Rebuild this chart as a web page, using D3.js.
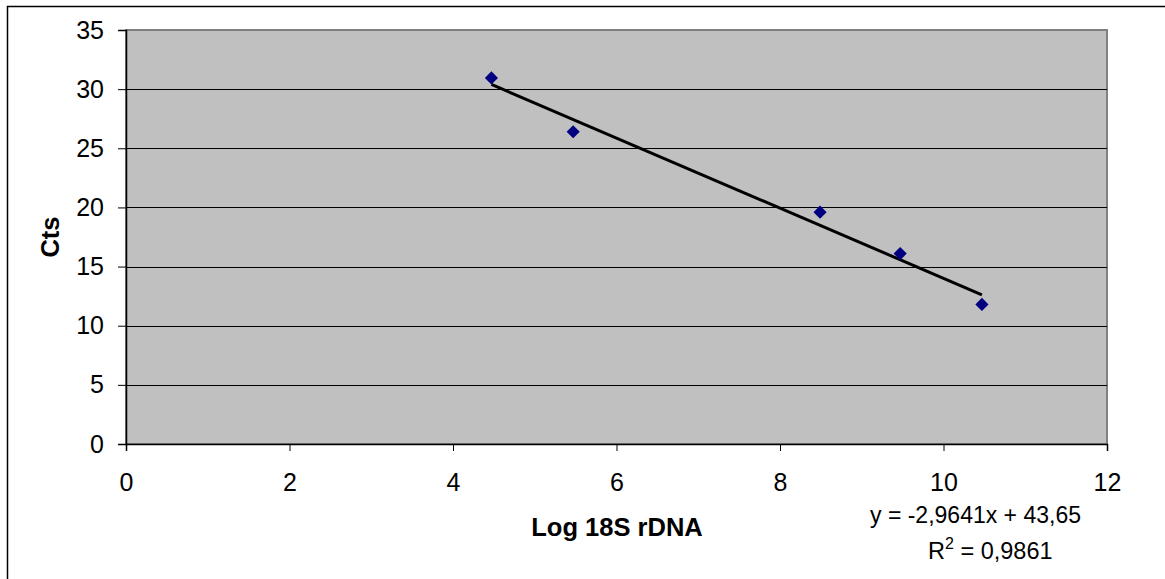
<!DOCTYPE html>
<html lang="en">

<head>
    <meta charset="UTF-8">
    <script src="https://d3js.org/d3.v7.min.js"></script>
    <title>Cts vs Log 18S rDNA</title>
    <style>
        body { margin: 0; background: #fff; overflow: hidden; }
        text { font-family: "Liberation Sans", Arial, sans-serif; fill: #000; }
    </style>
</head>

<body>
    <div id="chart"></div>
    <script>
        // Data
        const logDNA = [4.47, 5.47, 8.49, 9.47, 10.47];
        const cts = [30.95, 26.4, 19.6, 16.1, 11.8];
        const xTicks = [0, 2, 4, 6, 8, 10, 12];
        const yTicks = [0, 5, 10, 15, 20, 25, 30, 35];
        const trendSlope = -2.9641;
        const trendIntercept = 43.65;
        const rSquared = 0.9861;

        // Dimensions
        const width = 1165;
        const height = 579;
        const margin = { top: 30, right: 58, bottom: 135, left: 126 };
        const innerWidth = width - margin.left - margin.right;
        const innerHeight = height - margin.top - margin.bottom;

        const svg = d3.select("#chart")
            .append("svg")
            .attr("width", width)
            .attr("height", height)
            .style("display", "block");

        // Chart area border: only top and left edges are visible
        svg.append("path")
            .attr("d", `M7.5,${height} V6.5 H${width}`)
            .attr("fill", "none")
            .attr("stroke", "#000")
            .attr("stroke-width", 1.5);

        const g = svg.append("g")
            .attr("transform", `translate(${margin.left},${margin.top})`);

        // Scales
        const x = d3.scaleLinear().domain([0, 12]).range([0, innerWidth]);
        const y = d3.scaleLinear().domain([0, 35]).range([innerHeight, 0]);

        // Plot area
        g.append("rect")
            .attr("width", innerWidth)
            .attr("height", innerHeight)
            .attr("fill", "#c0c0c0")
            .attr("stroke", "#808080")
            .attr("stroke-width", 2);

        // Gridlines
        g.append("g")
            .selectAll("line")
            .data(yTicks.filter(d => d > 0 && d < 35))
            .join("line")
            .attr("x1", 0)
            .attr("x2", innerWidth)
            .attr("y1", d => Math.round(y(d)) + 0.5)
            .attr("y2", d => Math.round(y(d)) + 0.5)
            .attr("stroke", "#000")
            .attr("stroke-width", 1);

        // Axes
        g.append("g")
            .call(d3.axisLeft(y).tickValues(yTicks).tickSize(8).tickPadding(14))
            .call(a => a.select(".domain").attr("stroke", "#000").attr("stroke-width", 1.5))
            .call(a => a.selectAll(".tick line").attr("stroke", "#000"))
            .selectAll("text")
            .style("font-size", "25px")
            .style("font-family", "Liberation Sans, Arial, sans-serif");

        g.append("g")
            .attr("transform", `translate(0,${innerHeight})`)
            .call(d3.axisBottom(x).tickValues(xTicks).tickSize(7).tickPadding(22))
            .call(a => a.select(".domain").attr("stroke", "#000").attr("stroke-width", 1.5))
            .call(a => a.selectAll(".tick line").attr("stroke", "#000"))
            .selectAll("text")
            .style("font-size", "25px")
            .style("font-family", "Liberation Sans, Arial, sans-serif");

        // Trend line over the range of the data
        const xMin = d3.min(logDNA);
        const xMax = d3.max(logDNA);
        g.append("line")
            .attr("x1", x(xMin))
            .attr("y1", y(trendSlope * xMin + trendIntercept))
            .attr("x2", x(xMax))
            .attr("y2", y(trendSlope * xMax + trendIntercept))
            .attr("stroke", "#000")
            .attr("stroke-width", 3);

        // Points
        g.append("g")
            .selectAll("path")
            .data(logDNA.map((d, i) => ({ x: d, y: cts[i] })))
            .join("path")
            .attr("d", d3.symbol(d3.symbolDiamond2, 110))
            .attr("transform", d => `translate(${x(d.x)},${y(d.y)})`)
            .attr("fill", "#000080");

        // Axis titles
        svg.append("text")
            .attr("x", 617)
            .attr("y", 536)
            .attr("text-anchor", "middle")
            .style("font-size", "25.5px")
            .style("font-weight", "bold")
            .text("Log 18S rDNA");

        svg.append("text")
            .attr("transform", "translate(59,237) rotate(-90)")
            .attr("text-anchor", "middle")
            .style("font-size", "25.5px")
            .style("font-weight", "bold")
            .text("Cts");

        // Trendline label
        const fmt = v => String(v).replace(".", ",");
        svg.append("text")
            .attr("x", 1081)
            .attr("y", 523)
            .attr("text-anchor", "end")
            .style("font-size", "23px")
            .text(`y = ${fmt(trendSlope)}x + ${fmt(trendIntercept)}`);

        svg.append("text")
            .attr("x", 928)
            .attr("y", 559)
            .style("font-size", "23.5px")
            .html(`R<tspan dy="-10" font-size="16px">2</tspan><tspan dy="10"> = ${fmt(rSquared)}</tspan>`);
    </script>
</body>

</html>
